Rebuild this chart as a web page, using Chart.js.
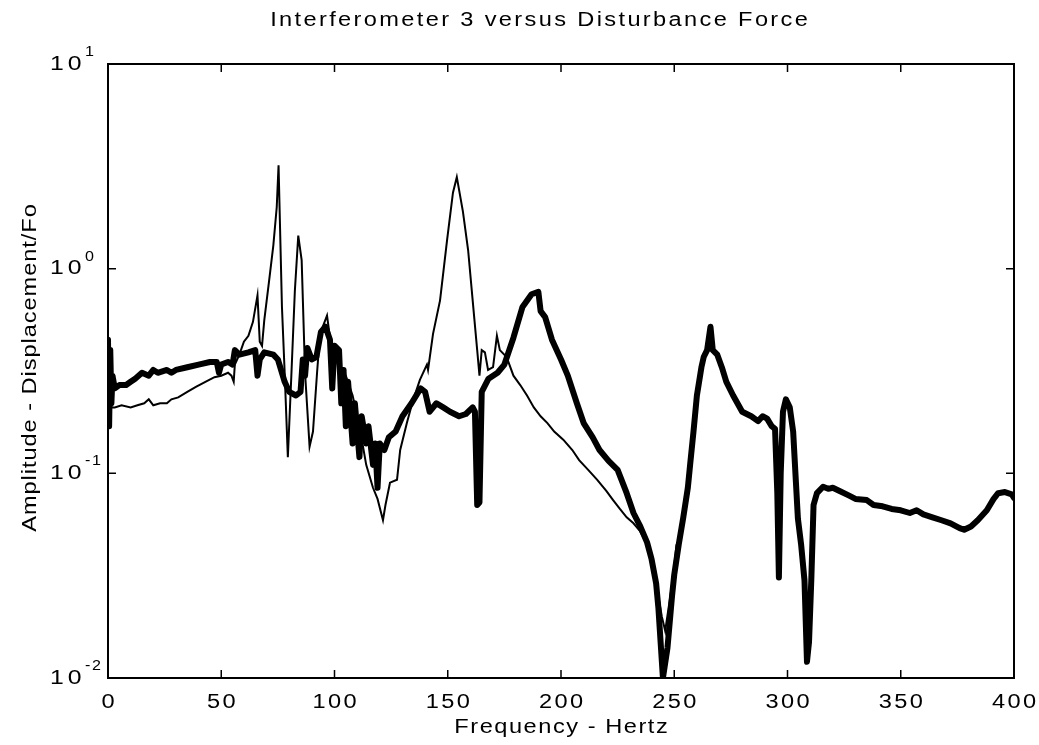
<!DOCTYPE html>
<html>
<head>
<meta charset="utf-8">
<script src="https://cdn.jsdelivr.net/npm/chart.js@4.4.1/dist/chart.umd.min.js"></script>
<style>
  html, body { margin: 0; padding: 0; background: #fff; }
  #wrap { width: 1039px; height: 745px; position: relative; }
</style>
</head>
<body>
<div id="wrap"><canvas id="ifoChart" width="1039" height="745"></canvas></div>
<script>
// Thick trace (frequency in Hz, amplitude)
const freqA = [0, 0.5, 1, 1.5, 2, 3, 5, 8, 10, 12, 15, 18, 20, 22, 26, 28, 30, 35, 40, 45, 48, 49, 50, 53, 55,
  56, 58, 62, 65, 66, 67, 69, 73, 75, 78, 80, 83, 85, 86, 87, 88, 90, 92, 94, 96, 98, 99, 100,
  102, 103, 104, 105, 106, 108, 109, 111, 112, 114, 115, 117, 118, 119, 120, 122, 124, 127, 130,
  134, 138, 140, 142, 145, 148, 151, 155, 158, 161, 162, 163, 164, 165, 168, 172, 175, 179, 183,
  187, 190, 191, 193, 196, 200, 203, 207, 210, 214, 217, 221, 225, 229, 232, 235, 238, 240, 242,
  243, 245, 247, 249, 250, 252, 254, 256, 257, 258.5, 260, 262, 263, 264.5, 266, 267, 269, 271,
  273, 276, 280, 284, 287, 289, 291, 293, 294.5, 295.5, 296.2, 297, 298, 299.3, 301, 302.5, 303.5,
  304.6, 306, 307.5, 308.6, 309.5, 310.5, 311.5, 313, 315.7, 318, 320, 323, 327, 330, 335, 338,
  342, 346, 350, 354, 357, 360, 364, 368, 372, 376, 378, 381, 384, 388, 391, 393, 396, 399, 400];
const ampA = [0.45, 0.17, 0.40, 0.22, 0.30, 0.26, 0.27, 0.27, 0.28, 0.29, 0.31, 0.30, 0.32, 0.31, 0.32, 0.31, 0.32, 0.33, 0.34, 0.35, 0.35, 0.31, 0.34, 0.35, 0.34,
  0.40, 0.38, 0.39, 0.40, 0.30, 0.36, 0.39, 0.38, 0.36, 0.28, 0.25, 0.24, 0.25, 0.36, 0.30, 0.41, 0.36, 0.37, 0.49, 0.52, 0.45, 0.26, 0.42,
  0.40, 0.22, 0.32, 0.17, 0.28, 0.14, 0.22, 0.12, 0.19, 0.14, 0.17, 0.11, 0.14, 0.085, 0.14, 0.13, 0.15, 0.16, 0.19,
  0.22, 0.26, 0.25, 0.20, 0.22, 0.21, 0.20, 0.19, 0.195, 0.21, 0.20, 0.07, 0.072, 0.25, 0.29, 0.31, 0.34, 0.46, 0.65,
  0.75, 0.77, 0.62, 0.58, 0.45, 0.36, 0.30, 0.22, 0.176, 0.15, 0.13, 0.115, 0.104, 0.08, 0.064, 0.055, 0.046, 0.038, 0.029,
  0.022, 0.010, 0.014, 0.025, 0.032, 0.045, 0.061, 0.085, 0.11, 0.16, 0.24, 0.33, 0.37, 0.40, 0.52, 0.40, 0.38, 0.33,
  0.28, 0.24, 0.20, 0.19, 0.18, 0.19, 0.185, 0.17, 0.165, 0.08, 0.031, 0.10, 0.20, 0.23, 0.21, 0.16, 0.10,
  0.06, 0.045, 0.03, 0.012, 0.015, 0.03, 0.07, 0.08, 0.086, 0.084, 0.085, 0.082, 0.078, 0.075, 0.074, 0.070,
  0.069, 0.067, 0.066, 0.064, 0.066, 0.063, 0.061, 0.059, 0.057, 0.054, 0.053, 0.055, 0.059, 0.066, 0.075, 0.08, 0.081, 0.079, 0.076];

// Thin trace
const freqB = [0, 0.5, 1, 1.5, 3, 6, 10, 13, 16, 18, 20, 23, 26, 28, 31, 35, 39, 43, 47, 50, 53, 54.5,
  55.5, 56, 58, 60, 62, 64, 66, 67, 68, 69, 71, 73, 74.5, 75.3, 76.8, 78, 79.4, 81, 82.5, 84, 85.5,
  87, 89, 90.5, 92.3, 93.6, 96.7, 98, 100, 102, 105, 108, 111, 114, 117, 119, 121.4, 122.5, 124.5,
  127.6, 129, 132, 134.7, 137.7, 140.8, 141.3, 143.5, 146.6, 149.7, 152.3, 154, 156.7, 159, 161,
  163, 164, 165, 166.4, 167.8, 170, 171.7, 173, 176, 179, 182, 185, 188, 191, 194, 197, 201, 205,
  208, 212, 216, 220, 223, 226, 229, 232, 235, 238, 241, 243, 244.5, 246, 247.5, 249.5, 251];
const ampB = [0.30, 0.17, 0.26, 0.21, 0.21, 0.215, 0.21, 0.215, 0.22, 0.23, 0.215, 0.22, 0.22, 0.23, 0.235, 0.25, 0.265, 0.28, 0.295, 0.30, 0.31, 0.30,
  0.28, 0.34, 0.38, 0.44, 0.47, 0.55, 0.74, 0.44, 0.42, 0.56, 0.85, 1.3, 2.0, 3.2, 0.65, 0.31, 0.12, 0.31, 0.78, 1.45, 1.1,
  0.31, 0.135, 0.16, 0.31, 0.48, 0.59, 0.46, 0.40, 0.33, 0.30, 0.24, 0.17, 0.11, 0.085, 0.075, 0.059, 0.07, 0.09,
  0.093, 0.13, 0.177, 0.228, 0.286, 0.34, 0.32, 0.48, 0.70, 1.38, 2.35, 2.8, 1.9, 1.23, 0.70,
  0.40, 0.30, 0.40, 0.39, 0.32, 0.33, 0.47, 0.40, 0.37, 0.30, 0.27, 0.24, 0.21, 0.19, 0.176, 0.16, 0.146, 0.13,
  0.116, 0.104, 0.093, 0.082, 0.074, 0.067, 0.061, 0.057, 0.052, 0.045, 0.035, 0.025, 0.020, 0.017, 0.022, 0.031, 0.045];

const xTicks = [0, 50, 100, 150, 200, 250, 300, 350, 400];
const yExponents = [-2, -1, 0, 1];

const titleText = 'Interferometer 3 versus Disturbance Force';
const xLabel = 'Frequency - Hertz';
const yLabel = 'Amplitude - Displacement/Fo';

const FONT = '"Liberation Sans", Arial, sans-serif';

function toPoints(xs, ys) {
    return xs.map((x, i) => ({ x: x, y: ys[i] }));
}

// slightly widened, slightly spaced text, like the original print
function wideText(ctx, text, x, y, sx, spacing, align) {
    ctx.save();
    ctx.translate(x, y);
    ctx.scale(sx, 1);
    ctx.letterSpacing = spacing + 'px';
    const w = ctx.measureText(text).width - spacing;
    ctx.textAlign = 'left';
    const x0 = (align === 'left') ? 0 : -w / 2;
    ctx.fillText(text, x0, 0);
    ctx.restore();
}

// frame ticks (inward) and all labels, placed with the chart's own scales
const decorations = {
    id: 'decorations',
    afterDraw(chart) {
        const ctx = chart.ctx;
        const area = chart.chartArea;
        const xs = chart.scales.x;
        const ys = chart.scales.y;
        const tick = 8;

        ctx.save();
        ctx.strokeStyle = '#000';
        ctx.lineWidth = 2;
        ctx.strokeRect(area.left, area.top, area.right - area.left, area.bottom - area.top);

        ctx.lineWidth = 1.5;
        ctx.beginPath();
        xTicks.forEach(v => {
            const px = xs.getPixelForValue(v);
            ctx.moveTo(px, area.bottom); ctx.lineTo(px, area.bottom - tick);
            ctx.moveTo(px, area.top); ctx.lineTo(px, area.top + tick);
        });
        yExponents.forEach(e => {
            const py = ys.getPixelForValue(Math.pow(10, e));
            ctx.moveTo(area.left, py); ctx.lineTo(area.left + tick, py);
            ctx.moveTo(area.right, py); ctx.lineTo(area.right - tick, py);
        });
        ctx.stroke();

        ctx.fillStyle = '#000';
        ctx.textBaseline = 'middle';

        // x tick labels
        ctx.font = '20px ' + FONT;
        xTicks.forEach(v => {
            wideText(ctx, String(v), xs.getPixelForValue(v), area.bottom + 24, 1.18, 2);
        });

        // y tick labels 10^n
        yExponents.forEach(e => {
            const py = ys.getPixelForValue(Math.pow(10, e));
            ctx.font = '21px ' + FONT;
            wideText(ctx, '10', 50, py, 1.18, 3.3, 'left');
            ctx.font = '14px ' + FONT;
            wideText(ctx, String(e), 85, py - 12, 1.15, 1.5, 'left');
        });

        // axis titles and chart title
        ctx.font = '20px ' + FONT;
        wideText(ctx, xLabel, (area.left + area.right) / 2, area.bottom + 49, 1.18, 1.3);
        wideText(ctx, titleText, 539, 20, 1.18, 2);

        ctx.translate(30, (area.top + area.bottom) / 2 - 3);
        ctx.rotate(-Math.PI / 2);
        wideText(ctx, yLabel, 0, 0, 1.18, 0.8);
        ctx.restore();
    }
};

document.addEventListener('DOMContentLoaded', function () {
    const ctx = document.getElementById('ifoChart');

    new Chart(ctx, {
        type: 'line',
        data: {
            datasets: [{
                label: 'Thin trace',
                data: toPoints(freqB, ampB),
                borderColor: '#000',
                borderWidth: 2,
                pointRadius: 0,
                tension: 0,
                fill: false
            }, {
                label: 'Thick trace',
                data: toPoints(freqA, ampA),
                borderColor: '#000',
                borderWidth: 6,
                borderJoinStyle: 'round',
                borderCapStyle: 'round',
                pointRadius: 0,
                tension: 0,
                fill: false
            }]
        },
        options: {
            responsive: false,
            animation: false,
            layout: { padding: { left: 108, right: 25, top: 64, bottom: 67 } },
            plugins: {
                legend: { display: false },
                title: { display: false },
                tooltip: { enabled: false }
            },
            scales: {
                x: {
                    type: 'linear',
                    min: 0,
                    max: 400,
                    ticks: { display: false },
                    grid: { display: false, drawTicks: false },
                    border: { display: false }
                },
                y: {
                    type: 'logarithmic',
                    min: 0.01,
                    max: 10,
                    ticks: { display: false },
                    grid: { display: false, drawTicks: false },
                    border: { display: false }
                }
            }
        },
        plugins: [decorations]
    });
});
</script>
</body>
</html>
